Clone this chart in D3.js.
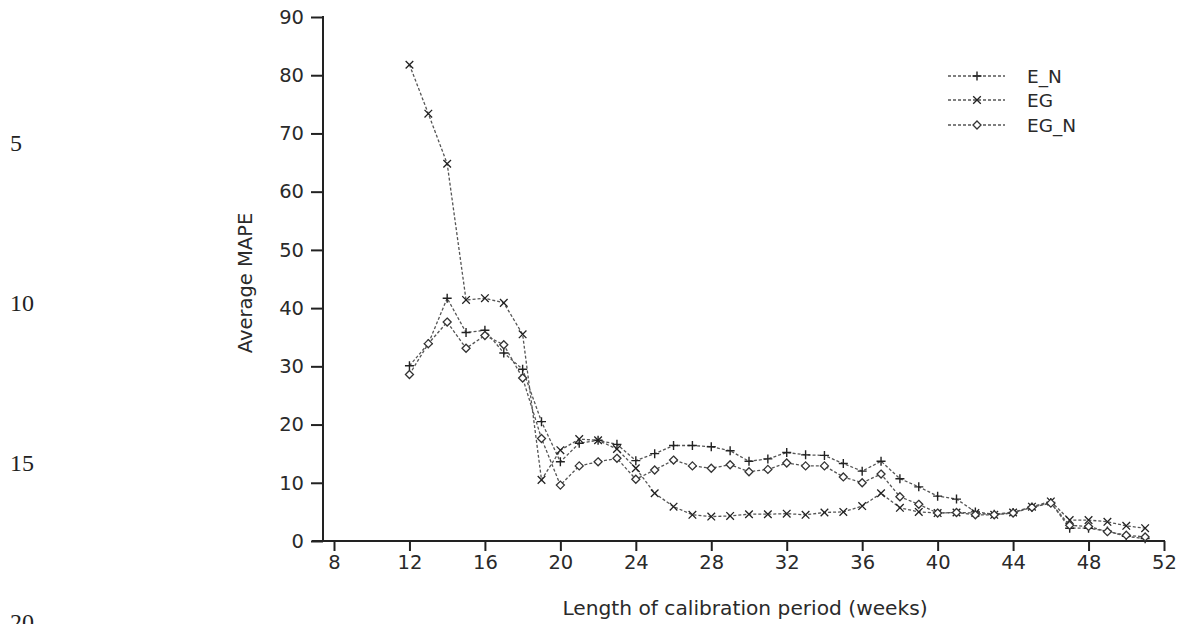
<!DOCTYPE html>
<html>
<head>
<meta charset="utf-8">
<script src="https://cdn.jsdelivr.net/npm/d3@7/dist/d3.min.js"></script>
<style>
  html, body { margin: 0; padding: 0; background: #fff; }
  svg { display: block; }
</style>
</head>
<body>
<script>
// ---- data ----
const weeks = [12,13,14,15,16,17,18,19,20,21,22,23,24,25,26,27,28,29,30,31,32,33,34,35,36,37,38,39,40,41,42,43,44,45,46,47,48,49,50,51];
const E_N  = [30.1,33.9,41.7,35.8,36.2,32.3,29.5,20.5,13.6,16.8,17.3,16.6,13.8,15.0,16.4,16.4,16.2,15.5,13.7,14.1,15.2,14.8,14.7,13.3,12.0,13.7,10.7,9.3,7.7,7.2,5.0,4.6,4.9,5.8,6.6,2.2,2.2,1.7,0.8,0.4];
const EG   = [81.8,73.4,64.8,41.4,41.7,40.9,35.5,10.5,15.6,17.5,17.3,15.8,12.5,8.2,5.9,4.5,4.2,4.3,4.6,4.6,4.7,4.5,4.9,5.0,6.0,8.2,5.7,5.0,4.8,4.9,4.8,4.5,4.9,5.9,6.8,3.6,3.6,3.3,2.6,2.2];
const EG_N = [28.6,33.9,37.6,33.1,35.3,33.7,28.0,17.6,9.6,12.9,13.6,14.2,10.6,12.2,13.9,12.9,12.5,13.1,11.9,12.3,13.4,12.9,12.9,11.0,10.0,11.5,7.6,6.3,4.8,4.9,4.5,4.5,4.8,5.8,6.5,2.7,2.5,1.6,1.0,0.7];
const seriesNames = ["E_N", "EG", "EG_N"];
const seriesMarkers = ["plus", "cross", "diamond"];
const xTicks = [8,12,16,20,24,28,32,36,40,44,48,52];
const yTicks = [0,10,20,30,40,50,60,70,80,90];
const lineNumbers = ["5","10","15","20"];
const lineNumberY = [143,303,463,622];

const W = 1181, H = 624;
const svg = d3.select("body").append("svg").attr("width", W).attr("height", H);

const x = d3.scaleLinear().domain([8,52]).range([334,1164]);
const y = d3.scaleLinear().domain([0,90]).range([541,17]);
const axisX0 = 323;
const font = "'DejaVu Sans', sans-serif";
const axisColor = "#222";
const textColor = "#2a2a2a";

// manuscript line numbers
svg.append("g").selectAll("text").data(lineNumbers).join("text")
  .attr("x", 10).attr("y", (d,i) => lineNumberY[i])
  .attr("font-family", "'Liberation Serif', 'Times New Roman', serif")
  .attr("font-size", 24).attr("fill", "#222")
  .attr("dominant-baseline", "central")
  .text(d => d);

// y axis
const gy = svg.append("g").attr("transform", `translate(${axisX0},0)`)
  .call(d3.axisLeft(y).tickValues(yTicks).tickSize(12).tickPadding(7).tickFormat(d3.format("d")));
gy.select(".domain").remove();
gy.selectAll(".tick line").attr("stroke", axisColor).attr("stroke-width", 2);
gy.selectAll(".tick text").attr("font-family", font).attr("font-size", 19.5).attr("fill", textColor);
svg.append("line").attr("x1", axisX0).attr("x2", axisX0).attr("y1", y(90) - 1).attr("y2", y(0))
  .attr("stroke", axisColor).attr("stroke-width", 2);

// x axis
const gx = svg.append("g").attr("transform", `translate(0,${y(0)})`)
  .call(d3.axisBottom(x).tickValues(xTicks).tickSize(10).tickPadding(4).tickFormat(d3.format("d")));
gx.select(".domain").remove();
gx.selectAll(".tick line").attr("stroke", axisColor).attr("stroke-width", 2);
gx.selectAll(".tick text").attr("font-family", font).attr("font-size", 19.5).attr("fill", textColor);
svg.append("line").attr("x1", axisX0 - 11).attr("x2", x(52) + 1).attr("y1", y(0)).attr("y2", y(0))
  .attr("stroke", axisColor).attr("stroke-width", 2);

// axis titles
svg.append("text").attr("x", (x(8)+x(52))/2 - 4).attr("y", 615)
  .attr("text-anchor", "middle").attr("font-family", font).attr("font-size", 20.2).attr("fill", textColor)
  .text("Length of calibration period (weeks)");
svg.append("text").attr("transform", `translate(252,${y(45) + 4}) rotate(-90)`)
  .attr("text-anchor", "middle").attr("font-family", font).attr("font-size", 19.5).attr("fill", textColor)
  .text("Average MAPE");

// markers
function drawMarker(g, type, cx, cy) {
  const s = 4.5;
  if (type === "plus") {
    g.append("path").attr("d", `M${cx-s},${cy}H${cx+s}M${cx},${cy-s}V${cy+s}`)
      .attr("stroke", "#222").attr("stroke-width", 1.4).attr("fill", "none");
  } else if (type === "cross") {
    const t = 3.8;
    g.append("path").attr("d", `M${cx-t},${cy-t}L${cx+t},${cy+t}M${cx-t},${cy+t}L${cx+t},${cy-t}`)
      .attr("stroke", "#222").attr("stroke-width", 1.3).attr("fill", "none");
  } else {
    const d = 4;
    g.append("path").attr("d", `M${cx},${cy-d}L${cx+d},${cy}L${cx},${cy+d}L${cx-d},${cy}Z`)
      .attr("stroke", "#333").attr("stroke-width", 1.3).attr("fill", "#fff");
  }
}

const allSeries = [E_N, EG, EG_N];
const line = d3.line().x(d => x(d[0])).y(d => y(d[1]));
allSeries.forEach((vals, si) => {
  const pts = weeks.map((w,i) => [w, vals[i]]);
  const g = svg.append("g");
  g.append("path").datum(pts).attr("d", line)
    .attr("fill", "none").attr("stroke", "#555").attr("stroke-width", 1.3)
    .attr("stroke-dasharray", "3,2");
  pts.forEach(p => drawMarker(g, seriesMarkers[si], x(p[0]), y(p[1])));
});

// legend
const legY = [76, 100, 125];
seriesNames.forEach((name, i) => {
  const g = svg.append("g");
  g.append("line").attr("x1", 948).attr("x2", 1005).attr("y1", legY[i]).attr("y2", legY[i])
    .attr("stroke", "#555").attr("stroke-width", 1.3).attr("stroke-dasharray", "3,2");
  drawMarker(g, seriesMarkers[i], 977, legY[i]);
  g.append("text").attr("x", 1027).attr("y", legY[i]).attr("dominant-baseline", "central")
    .attr("font-family", font).attr("font-size", 18.5).attr("fill", textColor).text(name);
});
</script>
</body>
</html>
